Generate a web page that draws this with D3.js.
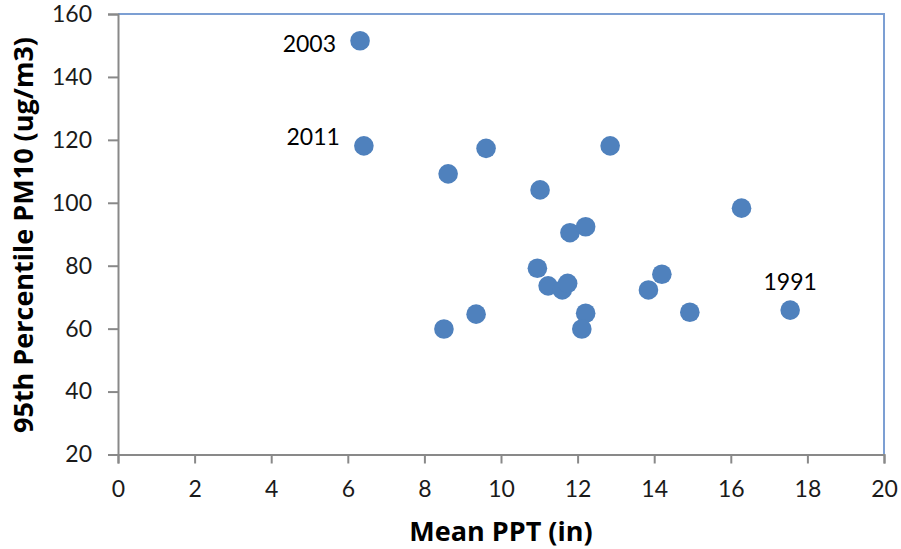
<!DOCTYPE html>
<html>
<head>
<meta charset="utf-8">
<script src="https://cdn.jsdelivr.net/npm/d3@7"></script>
<style>
  html, body { margin: 0; padding: 0; background: #fff; }
  svg { display: block; }
  .tick text { font-family: Lato, "Open Sans", sans-serif; font-size: 23px; fill: #1a1a1a; }
</style>
</head>
<body>
<svg id="chart" width="901" height="549"></svg>
<script>
// Mean precipitation (in) per year
const meanPPT = [6.32, 6.42, 8.62, 9.61, 12.85, 11.02, 11.80, 12.21, 8.51, 9.35,
                 10.95, 11.23, 11.60, 11.74, 12.21, 12.11, 16.28, 14.20, 13.85, 14.93, 17.55];
// 95th percentile PM10 (ug/m3) for the same years
const pm10 = [151.5, 118.1, 109.2, 117.3, 118.1, 104.1, 90.5, 92.4, 59.9, 64.6,
              79.2, 73.6, 72.3, 74.4, 64.9, 59.9, 98.3, 77.3, 72.3, 65.2, 65.9];
// Year labels shown next to selected points (empty = unlabeled)
const yearLabels = ["2003", "2011", "", "", "", "", "", "", "", "",
                    "", "", "", "", "", "", "", "", "", "", "1991"];
const xTicks = [0, 2, 4, 6, 8, 10, 12, 14, 16, 18, 20];
const yTicks = [20, 40, 60, 80, 100, 120, 140, 160];

const svg = d3.select("#chart");
const plotL = 118, plotR = 884, plotT = 14, plotB = 454.5;

const x = d3.scaleLinear().domain([0, 20]).range([plotL, plotR]);
const y = d3.scaleLinear().domain([20, 160]).range([plotB, plotT]);

// plot frame: top and right edges
svg.append("path")
  .attr("d", `M${plotL},${plotT}H${plotR}V${plotB}`)
  .attr("fill", "none")
  .attr("stroke", "#7C9FD3")
  .attr("stroke-width", 2);

// axes
const xAxis = svg.append("g")
  .attr("transform", `translate(0,${plotB})`)
  .call(d3.axisBottom(x).tickValues(xTicks).tickFormat(d3.format("d")).tickSize(9).tickPadding(17));
const yAxis = svg.append("g")
  .attr("transform", `translate(${plotL},0)`)
  .call(d3.axisLeft(y).tickValues(yTicks).tickFormat(d3.format("d")).tickSize(10).tickPadding(16));

[xAxis, yAxis].forEach(g => {
  g.select(".domain").attr("stroke", "#898989").attr("stroke-width", 2);
  g.selectAll(".tick line").attr("stroke", "#898989").attr("stroke-width", 2);
});

// points
const pts = meanPPT.map((v, i) => ({ x: v, y: pm10[i], label: yearLabels[i] }));
svg.append("g").selectAll("circle")
  .data(pts)
  .join("circle")
  .attr("cx", d => x(d.x))
  .attr("cy", d => y(d.y))
  .attr("r", 9.8)
  .attr("fill", "#4F81BD");

// year labels
const labelStyle = sel => sel
  .attr("font-family", "Lato, 'Open Sans', sans-serif")
  .attr("font-size", 23)
  .attr("fill", "#000");
svg.append("g").selectAll("text")
  .data(pts.filter(d => d.label))
  .join("text")
  .call(labelStyle)
  .attr("text-anchor", d => d.label === "1991" ? "middle" : "end")
  .attr("x", d => d.label === "1991" ? x(d.x) : x(d.x) - 24)
  .attr("y", d => d.label === "2003" ? y(d.y) + 11 : d.label === "2011" ? y(d.y) - 1 : y(d.y) - 20)
  .text(d => d.label);

// axis titles
svg.append("text")
  .attr("x", (plotL + plotR) / 2)
  .attr("y", 541)
  .attr("text-anchor", "middle")
  .attr("font-family", "'Open Sans', Lato, sans-serif")
  .attr("font-weight", "bold")
  .attr("font-size", 27)
  .attr("fill", "#000")
  .text("Mean PPT (in)");

svg.append("text")
  .attr("transform", "translate(33,235) rotate(-90)")
  .attr("text-anchor", "middle")
  .attr("font-family", "'Open Sans', Lato, sans-serif")
  .attr("font-weight", "bold")
  .attr("font-size", 27)
  .attr("fill", "#000")
  .text("95th Percentile PM10 (ug/m3)");
</script>
</body>
</html>
